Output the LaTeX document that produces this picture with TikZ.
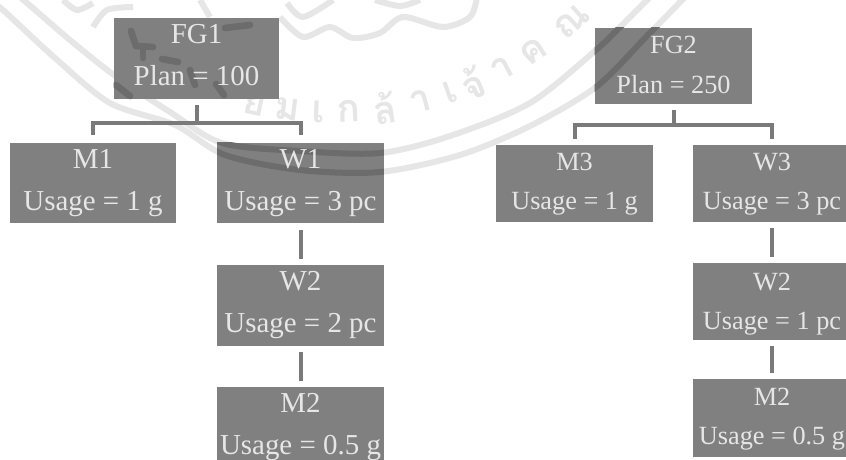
\documentclass[tikz,border=0pt]{standalone}
\usepackage{fontspec}
\setmainfont{Liberation Serif}
\newfontfamily\thaifont[Script=Thai]{Loma}
\usetikzlibrary{backgrounds,calc}
\definecolor{boxgray}{HTML}{808080}
\definecolor{boxtext}{HTML}{E6E6E6}
\definecolor{wmlight}{HTML}{E6E6E6}
\definecolor{wmdark}{HTML}{6C6C6C}
\definecolor{connline}{HTML}{7A7A7A}
\newcommand{\wmarcs}[1]{%
  \draw[#1,line width=4.5pt] plot[smooth] coordinates {(20,-3) (27,3) (70,40) (114,75) (170,112) (222,143) (300,151) (380,153) (450,136) (530,103) (596,50) (620,27) (650,-3)};
  \draw[#1,line width=4.5pt] plot[smooth] coordinates {(-3,7) (3,10) (55,58) (110,103) (175,125) (225,155) (300,170) (380,172) (460,155) (530,126) (596,87) (646,37) (685,-3)};
}
\newcommand{\twoline}[4]{\rule{0pt}{#1}#3\\\rule[-#2]{0pt}{1pt}#4}
\tikzset{
  treebox/.style={draw=none,fill=none,text=boxtext,inner sep=0pt,align=center},
  leftbox/.style={treebox,font=\fontsize{21.7}{31.5}\selectfont},
  rightbox/.style={treebox,font=\fontsize{19.7}{29.3}\selectfont},
  size/.style 2 args={minimum width=#1*0.75pt,minimum height=#2*0.75pt},
  conn/.style={draw=connline,line width=3pt},
  wmstroke/.style={draw=wmlight,line width=4.5pt,line join=round},
  blot/.style={draw=wmdark,line width=5pt,line cap=round,line join=round}
}
\begin{document}
\begin{tikzpicture}[x=0.75pt,y=-0.75pt]
\useasboundingbox (0,0) rectangle (846,460);
% boxes with their text
\node[leftbox,size={165}{81}]  (fg1) at (196.5,58.5) {\twoline{18.75pt}{9.75pt}{FG1}{Plan = 100}};
\node[leftbox,size={166}{80}]  (m1)  at (93,183)     {\twoline{18.75pt}{9.75pt}{M1}{Usage = 1 g}};
\node[leftbox,size={166}{80}]  (w1)  at (300.5,183)  {\twoline{18.75pt}{9.75pt}{W1}{Usage = 3 pc}};
\node[leftbox,size={166}{81}]  (w2a) at (300.5,305.5){\twoline{18.75pt}{10.5pt}{W2}{Usage = 2 pc}};
\node[leftbox,size={166}{81}]  (m2a) at (300.5,427.5){\twoline{19pt}{10.25pt}{M2}{Usage = 0.5 g}};
\node[rightbox,size={157}{76}] (fg2) at (673.5,66)   {\twoline{19.5pt}{8.2pt}{FG2}{Plan = 250}};
\node[rightbox,size={157}{77}] (m3)  at (574.5,183.5){\twoline{19pt}{9pt}{M3}{Usage = 1 g}};
\node[rightbox,size={158}{77}] (w3)  at (772,183.5)  {\twoline{19pt}{9pt}{W3}{Usage = 3 pc}};
\node[rightbox,size={158}{77}] (w2b) at (772,301.5)  {\twoline{20.9pt}{7.5pt}{W2}{Usage = 1 pc}};
\node[rightbox,size={158}{78}] (m2b) at (772,418)    {\twoline{19.5pt}{9pt}{M2}{Usage = 0.5 g}};
% watermark and box fills behind the text
\begin{scope}[on background layer]
  \begin{scope}
    \clip (0,0) rectangle (846,460);
    \wmarcs{wmlight}
    \draw[wmstroke] plot[smooth] coordinates {(280,17) (303,37) (330,27) (353,38) (380,33) (403,17) (443,27) (470,17) (477,-3)};
    \draw[wmstroke] plot[smooth] coordinates {(287,3) (303,17) (333,0)};
    \draw[wmstroke] plot[smooth] coordinates {(375,0) (400,6) (420,0)};
    \draw[wmstroke] plot[smooth] coordinates {(63,0) (77,10) (93,3)};
    \draw[wmstroke] plot[smooth] coordinates {(93,27) (107,10) (133,7)};
    \draw[wmstroke] (200,0) -- (210,17);
    \foreach \t/\g in {-12/ย,-6.8/ม,-2/เ,2.7/ก,8.5/ล้,14.1/า,19/เ,22.8/จ้,28/า,33.6/ค,41.3/ณ}{
      \node[text=wmlight,font=\thaifont\bfseries\fontsize{29}{29}\selectfont,rotate=\t,inner sep=0pt]
        at ({331+365*sin(\t)},{-253+365*cos(\t)}) {\g};
    }
  \end{scope}
  \foreach \n in {fg1,m1,w1,w2a,m2a,fg2,m3,w3,w2b,m2b}{
    \fill[boxgray] (\n.south west) rectangle (\n.north east);
  }
  \begin{scope}
    \clip (w1.south west) rectangle (w1.north east);
    \wmarcs{wmdark}
  \end{scope}
  \begin{scope}
    \clip (fg2.south west) rectangle (fg2.north east);
    \wmarcs{wmdark}
  \end{scope}
  \begin{scope}
    \clip (fg1.south west) rectangle (fg1.north east);
    \draw[blot] (131,31) -- (136,46) -- (153,47);
    \draw[blot] (143,48) -- (143,58);
    \draw[blot] (162,59) -- (178,62);
    \draw[blot] (190,70) -- (195,85);
    \draw[blot] (216,84) -- (224,95);
    \draw[blot] (116,85) -- (130,96);
    \draw[blot] (225,28) -- (250,25);
  \end{scope}
\end{scope}
% connectors
\coordinate (bar1) at (196.5,123);
\coordinate (bar2) at (673.5,125);
\draw[conn,shorten <=4.5pt] (fg1.south) -- (bar1);
\draw[conn,shorten <=6pt] (m1.north) |- (bar1);
\draw[conn,shorten <=6pt] (w1.north) |- (bar1);
\draw[conn,shorten <=4.5pt] (fg2.south) -- (bar2);
\draw[conn,shorten <=4.5pt] (m3.north) |- (bar2);
\draw[conn,shorten <=4.5pt] (w3.north) |- (bar2);
\draw[conn,shorten <=5pt,shorten >=4.5pt] (w1.south) -- (w2a.north);
\draw[conn,shorten <=4.5pt,shorten >=4pt] (w2a.south) -- (m2a.north);
\draw[conn,shorten <=4.5pt,shorten >=4.5pt] (w3.south) -- (w2b.north);
\draw[conn,shorten <=4.5pt,shorten >=4.5pt] (w2b.south) -- (m2b.north);
\end{tikzpicture}
\end{document}
